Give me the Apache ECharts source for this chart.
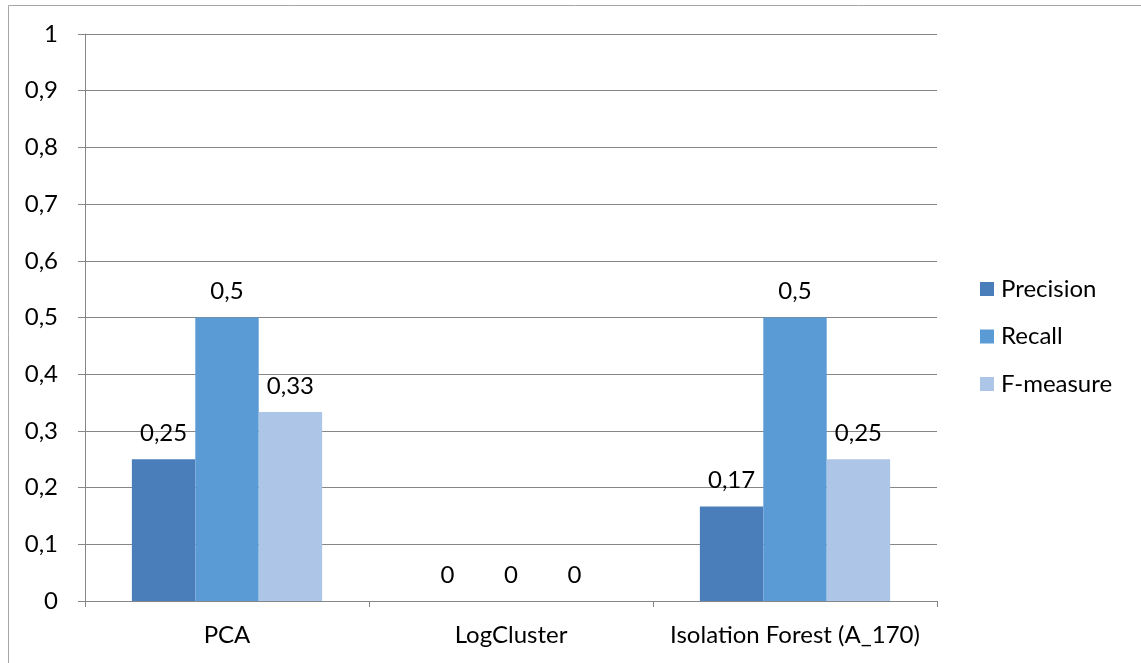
<!DOCTYPE html>
<html><head><meta charset="utf-8">
<script src="https://cdn.jsdelivr.net/npm/echarts@6/dist/echarts.min.js"></script>
<style>html,body{margin:0;padding:0;background:#fff}#c{width:1141px;height:663px}</style>
</head><body><div id="c"></div>
<script>
const categories = ['PCA', 'LogCluster', 'Isolation Forest (A_170)'];
const seriesNames = ['Precision', 'Recall', 'F-measure'];
const precision = [0.25, 0, 0.1667];
const recall = [0.5, 0, 0.5];
const fmeasure = [0.3333, 0, 0.25];
const yTicks = [0, 0.1, 0.2, 0.3, 0.4, 0.5, 0.6, 0.7, 0.8, 0.9, 1];

const colors = ['#4A7EBB', '#5B9BD5', '#ADC5E7'];
const FONT = 'Lato';
const FS = 24;
const fmt = v => String(Math.round(v * 100) / 100).replace('.', ',');

const chart = echarts.init(document.getElementById('c'), null, {renderer: 'canvas'});
const mk = (name, data, i) => ({
  name, type: 'bar', data,
  barGap: '0%', barCategoryGap: '33%',
  itemStyle: {color: colors[i]},
  label: {show: true, position: 'top', distance: 14, color: '#000', fontFamily: FONT, fontSize: FS,
          formatter: p => fmt(p.value)}
});
chart.setOption({
  animation: false,
  textStyle: {fontFamily: FONT},
  graphic: [{type: 'rect', shape: {x: 8.5, y: 5.5, width: 1200, height: 700},
             style: {fill: 'none', stroke: '#A6A6A6', lineWidth: 1}, z: -1}],
  grid: {left: 85, right: 204, top: 34, bottom: 62, containLabel: false},
  legend: {
    orient: 'vertical', left: 975, top: 272,
    itemWidth: 14, itemHeight: 14, itemGap: 23.5,
    icon: 'rect',
    textStyle: {fontFamily: FONT, fontSize: FS, color: '#000', lineHeight: 24, padding: [0, 0, 0, 2]},
    data: seriesNames
  },
  xAxis: {
    type: 'category', data: categories,
    axisLine: {lineStyle: {color: '#868686'}},
    axisTick: {show: true, length: 6, lineStyle: {color: '#868686'}},
    axisLabel: {color: '#000', fontFamily: FONT, fontSize: FS, margin: 22, interval: 0, hideOverlap: false}
  },
  yAxis: {
    type: 'value', min: 0, max: 1, interval: 0.1,
    axisLine: {show: true, lineStyle: {color: '#868686'}},
    axisTick: {show: true, length: 7, lineStyle: {color: '#868686'}},
    splitLine: {lineStyle: {color: '#868686'}},
    axisLabel: {color: '#000', fontFamily: FONT, fontSize: FS, margin: 27,
                formatter: v => String(Math.round(v * 10) / 10).replace('.', ',')}
  },
  series: [mk(seriesNames[0], precision, 0), mk(seriesNames[1], recall, 1), mk(seriesNames[2], fmeasure, 2)]
});
</script></body></html>
